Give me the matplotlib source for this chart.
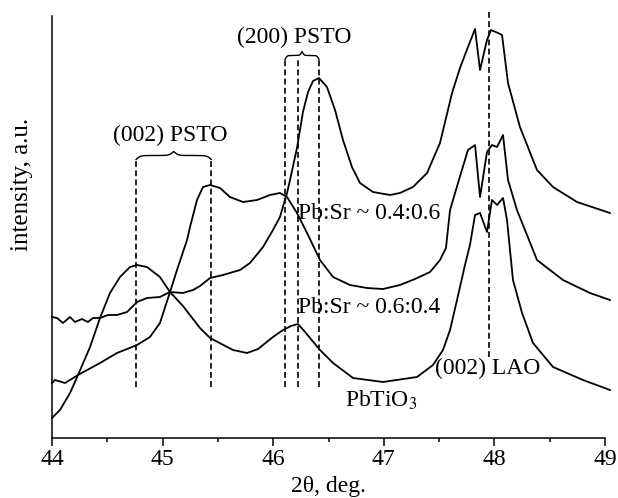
import numpy as np
import matplotlib
matplotlib.use("Agg")
import matplotlib.pyplot as plt

plt.rcParams['font.family'] = ['Liberation Serif', 'DejaVu Serif']
plt.rcParams['mathtext.fontset'] = 'stix'

# 2theta (deg) and intensity (a.u.)
tt_04 = [44.000, 44.045, 44.099, 44.163, 44.208, 44.271, 44.325, 44.371, 44.434, 44.506,
         44.588, 44.678, 44.769, 44.859, 44.976, 45.067, 45.184, 45.275, 45.338, 45.429,
         45.546, 45.700, 45.790, 45.908, 45.998, 46.061, 46.125, 46.152, 46.215, 46.269,
         46.315, 46.360, 46.414, 46.486, 46.559, 46.631, 46.712, 46.785, 46.902, 47.056,
         47.146, 47.264, 47.391, 47.508, 47.617, 47.689, 47.761, 47.825, 47.870, 47.933,
         47.969, 48.033, 48.069, 48.123, 48.231, 48.385, 48.530, 48.747, 49.045]
int_04 = [120.5, 119.5, 114.5, 120.5, 115.5, 118.5, 115.5, 119.5, 119.5, 122.5,
          122.5, 125.5, 135.5, 139.5, 140.5, 145.5, 144.5, 147.5, 151.5, 159.5,
          162.5, 167.5, 174.5, 190.5, 207.5, 220.5, 244.5, 257.5, 289.5, 325.5,
          345.5, 356.5, 359.5, 350.5, 327.5, 297.5, 270.5, 254.5, 245.5, 242.5,
          244.5, 250.5, 264.5, 294.5, 344.5, 369.5, 390.5, 408.5, 367.5, 397.5,
          407.5, 404.5, 402.5, 354.5, 310.5, 267.5, 250.5, 235.5, 224.5]

tt_06 = [44.000, 44.027, 44.118, 44.235, 44.434, 44.588, 44.769, 44.886, 44.976, 45.067,
         45.139, 45.221, 45.248, 45.311, 45.365, 45.429, 45.519, 45.609, 45.727, 45.854,
         45.971, 46.061, 46.125, 46.215, 46.306, 46.423, 46.541, 46.694, 46.848, 46.993,
         47.146, 47.282, 47.418, 47.508, 47.562, 47.599, 47.671, 47.761, 47.825, 47.870,
         47.933, 47.978, 48.024, 48.078, 48.123, 48.204, 48.385, 48.620, 48.864, 49.045]
int_06 = [54.5, 57.5, 54.5, 62.5, 74.5, 84.5, 92.5, 100.5, 114.5, 145.5,
          170.5, 197.5, 210.5, 237.5, 250.5, 252.5, 249.5, 240.5, 235.5, 237.5,
          242.5, 244.5, 240.5, 224.5, 204.5, 177.5, 160.5, 152.5, 149.5, 148.5,
          152.5, 158.5, 165.5, 177.5, 189.5, 227.5, 254.5, 287.5, 292.5, 240.5,
          285.5, 292.5, 290.5, 302.5, 257.5, 227.5, 177.5, 157.5, 144.5, 137.5]

tt_pto = [44.000, 44.072, 44.163, 44.235, 44.344, 44.434, 44.524, 44.615, 44.705, 44.769,
          44.859, 44.976, 45.067, 45.184, 45.338, 45.429, 45.637, 45.763, 45.863, 45.998,
          46.089, 46.161, 46.224, 46.288, 46.423, 46.541, 46.722, 46.993, 47.300, 47.445,
          47.535, 47.599, 47.662, 47.734, 47.779, 47.825, 47.870, 47.933, 47.978, 48.024,
          48.078, 48.114, 48.168, 48.250, 48.349, 48.530, 48.801, 49.045]
int_pto = [19.5, 27.5, 44.5, 62.5, 90.5, 119.5, 144.5, 160.5, 170.5, 172.5,
           170.5, 160.5, 145.5, 131.5, 109.5, 99.5, 87.5, 84.5, 88.5, 100.5,
           107.5, 111.5, 113.5, 105.5, 87.5, 74.5, 59.5, 55.5, 60.5, 72.5,
           87.5, 107.5, 137.5, 172.5, 192.5, 222.5, 224.5, 205.5, 237.5, 232.5,
           239.5, 217.5, 157.5, 124.5, 94.5, 70.5, 57.5, 47.5]

# dashed marker positions
pos_002 = [44.76, 45.44]
pos_200 = [46.107, 46.22, 46.414]
pos_lao = 47.95


def brace(x0, x1, y, h, n=200):
    # horizontal curly brace, point upward
    half = np.linspace(0, 1, n)
    beta = 18.0
    yh = 1 / (1 + np.exp(-beta * half)) + 1 / (1 + np.exp(-beta * (half - 1)))
    yy = np.concatenate([yh, yh[::-1]])
    xx = np.linspace(x0, x1, 2 * n)
    return xx, y + h * (yy - 1.0)


fig = plt.figure(figsize=(6.18, 4.98), dpi=100)
ax = fig.add_axes([52 / 618, 1 - 437.5 / 498, 553 / 618, 421.5 / 498])

for t, i in [(tt_04, int_04), (tt_06, int_06), (tt_pto, int_pto)]:
    ax.plot(t, i, color='black', lw=1.3, clip_on=False, solid_joinstyle='round')

dash = (0, (3.5, 2))
for p in pos_002:
    ax.plot([p, p], [50.5, 277.5], color='black', lw=1.2, ls=dash)
for p in pos_200:
    ax.plot([p, p], [50.5, 377.5], color='black', lw=1.2, ls=dash)
ax.plot([pos_lao, pos_lao], [80.5, 427.5], color='black', lw=1.2, ls=dash, clip_on=False)

bx, by = brace(pos_002[0], pos_002[1], 282, 8)
ax.plot(bx, by, color='black', lw=1.0)
bx, by = brace(pos_200[0], pos_200[2], 382, 8)
ax.plot(bx, by, color='black', lw=1.0)

fs = 17
ax.text(45.067, 302.5, "(002) PSTO", ha='center', va='center', fontsize=fs)
ax.text(46.19, 400.5, "(200) PSTO", ha='center', va='center', fontsize=fs)
ax.text(46.224, 224.5, "Pb:Sr ~ 0.4:0.6", ha='left', va='center', fontsize=fs)
ax.text(46.224, 130.5, "Pb:Sr ~ 0.6:0.4", ha='left', va='center', fontsize=fs)
ax.text(46.65, 37.5, "PbTiO$_3$", ha='left', va='center', fontsize=fs)
ax.text(47.463, 69.5, "(002) LAO", ha='left', va='center', fontsize=fs)

ax.set_xlim(44, 49)
ax.set_ylim(0, 421.5)
ax.set_xticks([44, 45, 46, 47, 48, 49])
ax.set_xticks(np.arange(44.5, 49, 1.0), minor=True)
ax.set_yticks([])
ax.tick_params(axis='x', which='major', direction='out', length=5.8, width=1.1,
               labelsize=17, pad=2.5)
ax.tick_params(axis='x', which='minor', direction='out', length=2.9, width=1.1)
for s in ['top', 'right']:
    ax.spines[s].set_visible(False)
for s in ['left', 'bottom']:
    ax.spines[s].set_linewidth(1.1)

ax.set_xlabel("2θ, deg.", fontsize=17, labelpad=4)
ax.set_ylabel("intensity, a.u.", fontsize=18)
ax.yaxis.set_label_coords(-0.035, 0.6)

fig.savefig("out.png", dpi=100)
